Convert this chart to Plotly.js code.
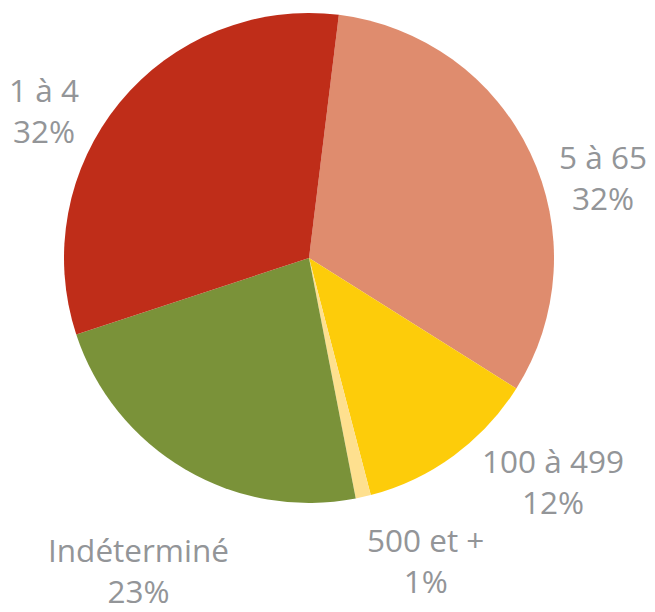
<!DOCTYPE html>
<html>
<head>
<meta charset="utf-8">
<script src="https://cdn.plot.ly/plotly-3.0.1.min.js"></script>
<style>html,body{margin:0;padding:0;background:#fff;}#chart{width:655px;height:612px;}</style>
</head>
<body>
<div id="chart"></div>
<script>
// Data (clockwise order starting just right of 12 o'clock)
const categories = ["5 à 65", "100 à 499", "500 et +", "Indéterminé", "1 à 4"];
const values = [32, 12, 1, 23, 32];
const percentLabels = ["32%", "12%", "1%", "23%", "32%"];
const colors = ["#DF8C6E", "#FDCC0A", "#FEE08F", "#7A9239", "#BF2D19"];

// Label block centres in pixels
const labelPos = [
  {x: 603, y: 177},
  {x: 553, y: 481},
  {x: 425, y: 560},
  {x: 138, y: 570},
  {x: 44,  y: 110}
];

const W = 655, H = 612;
const font = {family: "Open Sans, sans-serif", size: 31.5, color: "#939598"};
const annotations = categories.map((c, i) => ({
  text: c + "<br>" + percentLabels[i],
  x: labelPos[i].x / W, y: 1 - labelPos[i].y / H,
  xref: "paper", yref: "paper", xanchor: "center", yanchor: "middle",
  align: "center", showarrow: false, font: font
}));

const trace = {
  type: "pie",
  labels: categories,
  values: values,
  sort: false,
  direction: "clockwise",
  rotation: 7,
  marker: {colors: colors, line: {width: 0}},
  textinfo: "none",
  hoverinfo: "label+percent",
  domain: {x: [64 / W, 554 / W], y: [1 - 503 / H, 1 - 13 / H]}
};

Plotly.newPlot("chart", [trace], {
  width: W, height: H,
  margin: {l: 0, r: 0, t: 0, b: 0},
  showlegend: false,
  paper_bgcolor: "#ffffff",
  annotations: annotations
}, {displayModeBar: false, staticPlot: true});
</script>
</body>
</html>
